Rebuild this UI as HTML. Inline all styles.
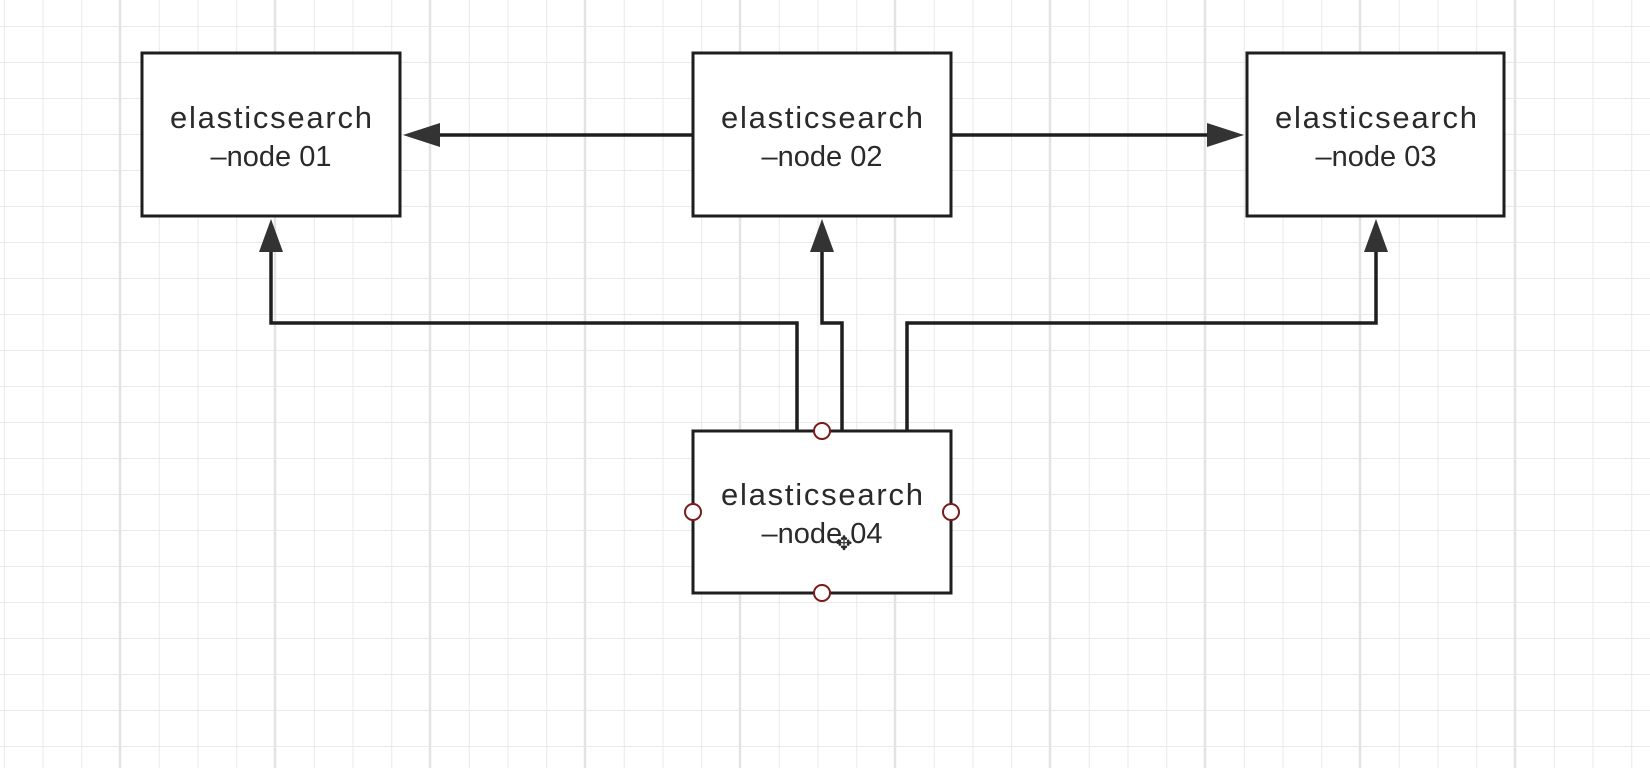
<!DOCTYPE html>
<html><head><meta charset="utf-8"><style>
html,body{margin:0;padding:0;background:#fff;}
svg{display:block}
text{font-family:"Liberation Sans",sans-serif;font-size:31px;fill:#2a2a2a;}
.n{font-size:29px;}
</style></head><body>
<svg width="1650" height="768" viewBox="0 0 1650 768" xmlns="http://www.w3.org/2000/svg">
<defs>
<pattern id="g" x="120" y="26" width="38.75" height="36" patternUnits="userSpaceOnUse">
<path d="M0 0V36M0 0H38.75" stroke="#e9e9e9" stroke-width="2" fill="none"/>
</pattern>
</defs>
<rect width="1650" height="768" fill="url(#g)"/>
<g stroke="#e3e3e3" stroke-width="2.5">
<line x1="120" y1="0" x2="120" y2="768"/><line x1="275" y1="0" x2="275" y2="768"/>
<line x1="430" y1="0" x2="430" y2="768"/><line x1="585" y1="0" x2="585" y2="768"/>
<line x1="740" y1="0" x2="740" y2="768"/><line x1="895" y1="0" x2="895" y2="768"/>
<line x1="1050" y1="0" x2="1050" y2="768"/><line x1="1205" y1="0" x2="1205" y2="768"/>
<line x1="1360" y1="0" x2="1360" y2="768"/><line x1="1515" y1="0" x2="1515" y2="768"/>
</g>
<g fill="#fff" stroke="#1e1e1e" stroke-width="3">
<rect x="142" y="53" width="258" height="163"/>
<rect x="693" y="53" width="258" height="163"/>
<rect x="1247" y="53" width="257" height="163"/>
<rect x="693" y="431" width="258" height="162"/>
</g>
<g fill="none" stroke="#1e1e1e" stroke-width="3.5">
<line x1="693" y1="135" x2="430" y2="135"/>
<line x1="951" y1="135" x2="1215" y2="135"/>
<polyline points="797,431 797,323 271,323 271,245"/>
<polyline points="842,431 842,323 822,323 822,245"/>
<polyline points="907,431 907,323 1376,323 1376,245"/>
</g>
<g fill="#333">
<polygon points="403,135 440,123 440,147"/>
<polygon points="1244,135 1207,123 1207,147"/>
<polygon points="271,219 259,252 283,252"/>
<polygon points="822,219 810,252 834,252"/>
<polygon points="1376,219 1364,252 1388,252"/>
</g>
<g text-anchor="middle">
<text x="271" y="128" textLength="202">elasticsearch</text><text class="n" x="271" y="166">–node 01</text>
<text x="822" y="128" textLength="202">elasticsearch</text><text class="n" x="822" y="166">–node 02</text>
<text x="1376" y="128" textLength="202">elasticsearch</text><text class="n" x="1376" y="166">–node 03</text>
<text x="822" y="505" textLength="202">elasticsearch</text><text class="n" x="822" y="543">–node 04</text>
</g>
<g fill="#fff" stroke="#7a1a1a" stroke-width="2">
<circle cx="822" cy="431" r="8"/><circle cx="822" cy="593" r="8"/>
<circle cx="693" cy="512" r="8"/><circle cx="951" cy="512" r="8"/>
</g>
<text x="844" y="550" style="font-size:20px" text-anchor="middle">✥</text>
</svg>
</body></html>
